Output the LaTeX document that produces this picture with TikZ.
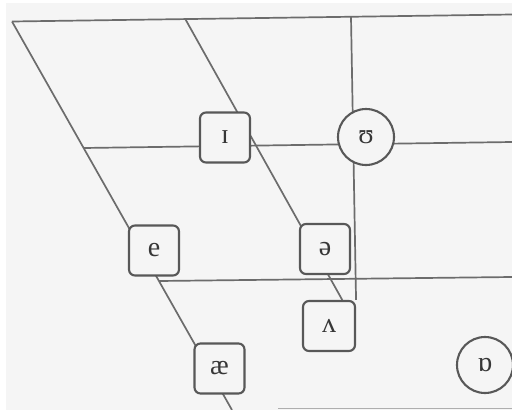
\documentclass[tikz,border=0pt]{standalone}
\usepackage{fontspec}
\setmainfont{Liberation Serif}

\definecolor{paper}{RGB}{245,245,245}
\definecolor{linegray}{RGB}{108,108,108}
\definecolor{boxgray}{RGB}{88,88,88}
\definecolor{inkgray}{RGB}{55,55,55}

\pgfdeclarelayer{sheet}
\pgfdeclarelayer{grid}
\pgfsetlayers{sheet,grid,main}

\begin{document}
\begin{tikzpicture}[x=1pt,y=-1pt,
  vowelbox/.style={draw=boxgray, line width=2.1pt, rounded corners=6pt,
    fill=paper, minimum width=50pt, minimum height=50pt, inner sep=0pt,
    font=\fontsize{28}{32}\selectfont, text=inkgray},
  vowelring/.style={draw=boxgray, line width=2.1pt, circle, fill=paper,
    minimum size=56pt, inner sep=0pt,
    font=\fontsize{28}{32}\selectfont, text=inkgray},
  chartline/.style={draw=linegray, line width=1.7pt},
  faintline/.style={draw=linegray!55, line width=1.6pt}]

\useasboundingbox (0,0) rectangle (512,410);

% vowel symbols
\node[vowelbox]  (ih)    at (225,137.5)  {ɪ};
\node[vowelring] (uh)    at (366,137)    {ʊ};
\node[vowelbox]  (e)     at (154,250.5)  {e};
\node[vowelbox]  (schwa) at (325,249)    {ə};
\node[vowelbox, minimum width=52pt] (wedge) at (329,326) {ʌ};
\node[vowelbox]  (ae)    at (219.5,368.5) {æ};
\node[vowelring] (lot)   at (485,365)    {ɒ};

% end points of the chart lines
\coordinate (topleft)  at (12,21.5);
\coordinate (topright) at (512,14.5);
\coordinate (frontlow) at (232,410);
\coordinate (midtop)   at (185,18.5);
\coordinate (backtop)  at (351,17);
\coordinate (closel)   at (83.5,148);
\coordinate (closer)   at (512,142);
\coordinate (openl)    at (159,281);
\coordinate (openr)    at (512,277);
\coordinate (floorl)   at (278,408.5);
\coordinate (floorr)   at (512,408.5);

\begin{pgfonlayer}{sheet}
  \fill[white] (0,0) rectangle (512,410);
  \fill[paper] (6,3) rectangle (512,410);
\end{pgfonlayer}

\begin{pgfonlayer}{grid}
  \draw[chartline] (topleft) -- (topright);
  \draw[chartline] (topleft) -- (frontlow);
  \draw[chartline] (midtop) -- (wedge.63);
  \draw[chartline] (backtop) -- (wedge.north east);
  \draw[chartline] (closel) -- (closer);
  \draw[chartline] (openl) -- (openr);
  \draw[faintline] (floorl) -- (floorr);
\end{pgfonlayer}
\end{tikzpicture}
\end{document}
